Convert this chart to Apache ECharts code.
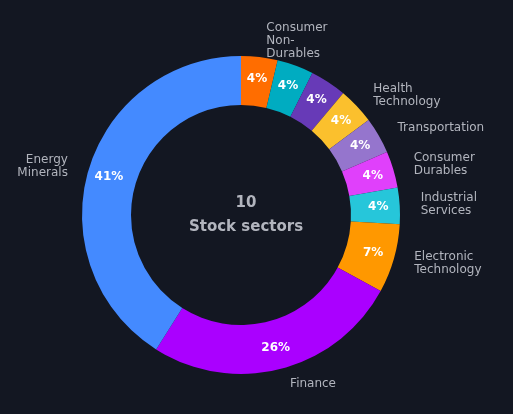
<!DOCTYPE html><html><head><meta charset="utf-8">
<script src="https://cdn.jsdelivr.net/npm/echarts@6/dist/echarts.min.js"></script>
<style>html,body{margin:0;background:#131722}#c{width:513px;height:414px}</style></head><body><div id="c"></div>
<script>
const sectors=['Consumer\nNon-\nDurables','Non-Energy Minerals','Process Industries','Health\nTechnology','Transportation','Consumer\nDurables','Industrial\nServices','Electronic\nTechnology','Finance','Energy\nMinerals'];
const values=[3.7,3.7,3.7,3.7,3.7,3.7,3.7,7,26,41];
const colors=['#FF6D00','#00ACC1','#673AB7','#FBC02D','#9575CD','#E040FB','#26C6DA','#FF9800','#AA00FF','#448AFF'];
const hidden=[1,2];
const data=values.map((v,i)=>({value:v,name:sectors[i],itemStyle:{color:colors[i]}}));
const font='DejaVu Sans';
const c=echarts.init(document.getElementById('c'));
c.setOption({backgroundColor:'#131722',animation:false,
title:{text:'10',subtext:'Stock sectors',left:241,top:191,textAlign:'center',itemGap:9,
 textStyle:{color:'#B2B5BE',fontSize:15,fontWeight:'bold',fontFamily:font},
 subtextStyle:{color:'#B2B5BE',fontSize:15,fontWeight:'bold',fontFamily:font}},
series:[
{type:'pie',center:[241,215],radius:[110,159],startAngle:90,data:data,
 label:{position:'inside',color:'#fff',fontSize:12,fontWeight:'bold',fontFamily:font,
  formatter:p=>Math.round(p.percent)+'%'},labelLine:{show:false}},
{type:'pie',center:[241,215],radius:[110,159],startAngle:90,silent:true,avoidLabelOverlap:false,
 data:data.map((d,i)=>({value:d.value,name:d.name,itemStyle:{color:'transparent'},label:{show:!hidden.includes(i)}})),
 label:{position:'outside',color:'#B2B5BE',fontSize:12,fontFamily:font,lineHeight:13,align:'left'},
 labelLine:{show:false,length:16,length2:0}}
]});
</script></body></html>
